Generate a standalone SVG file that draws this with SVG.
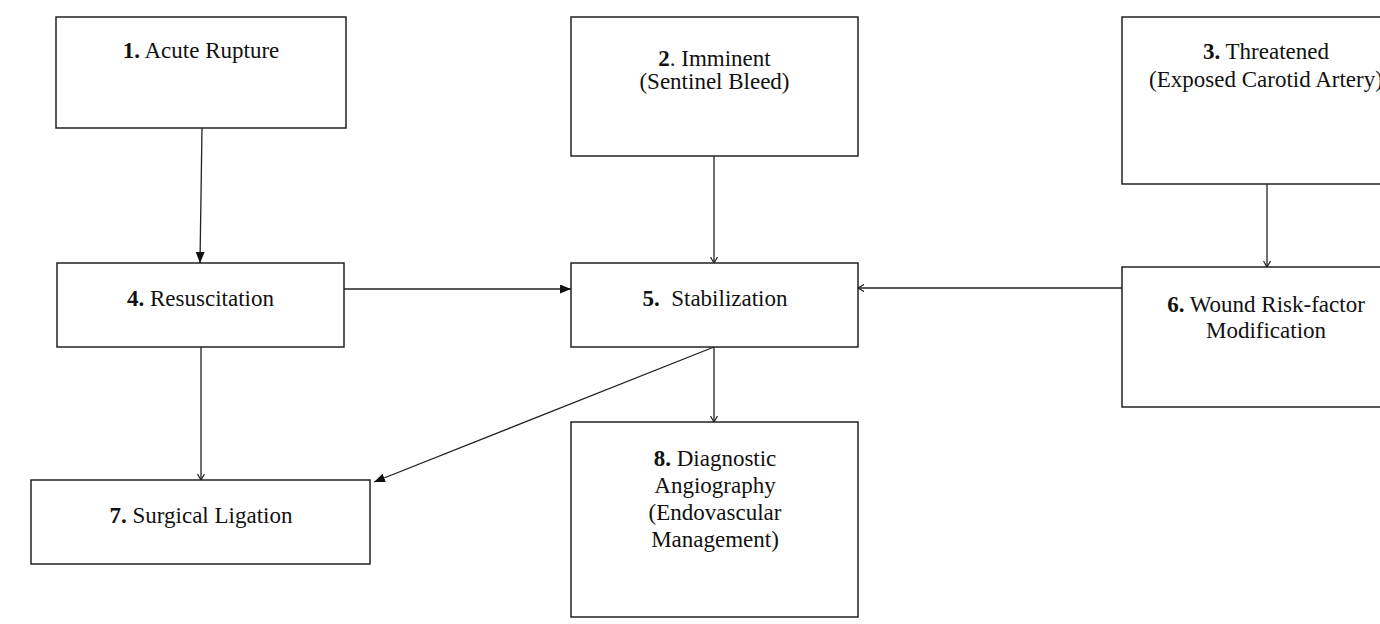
<svg xmlns="http://www.w3.org/2000/svg" width="1380" height="624" viewBox="0 0 1380 624">
<style>
  .box { fill: #ffffff; stroke: #222222; stroke-width: 1.5; }
  .lbl { font-family: "Liberation Serif", "Times New Roman", serif; font-size: 23px; fill: #111111; text-anchor: middle; }
  .b { font-weight: bold; }
  .con { fill: none; stroke: #222222; stroke-width: 1.3; }
  .solid { marker-end: url(#arrFill); }
  .open { marker-end: url(#arrOpen); }
</style>
<defs>
  <marker id="arrFill" markerUnits="userSpaceOnUse" markerWidth="12" markerHeight="10" refX="11" refY="4.5" orient="auto">
    <path d="M0,0 L11,4.5 L0,9 z" fill="#111111"/>
  </marker>
  <marker id="arrOpen" markerUnits="userSpaceOnUse" markerWidth="8" markerHeight="8" refX="6" refY="3.5" orient="auto">
    <path d="M0,0 L6,3.5 L0,7" fill="none" stroke="#222222" stroke-width="1.2"/>
  </marker>
</defs>
<rect width="1380" height="624" fill="#ffffff"/>

<g id="connectors">
  <line class="con solid" x1="202" y1="128" x2="200" y2="263"/>
  <line class="con open" x1="714" y1="156" x2="714" y2="263"/>
  <line class="con open" x1="1267" y1="184" x2="1267" y2="267"/>
  <line class="con solid" x1="344" y1="289" x2="571" y2="289"/>
  <line class="con open" x1="1122" y1="288" x2="858" y2="288"/>
  <line class="con open" x1="201" y1="347" x2="201" y2="480"/>
  <line class="con open" x1="714" y1="347" x2="714" y2="422"/>
  <line class="con solid" x1="714" y1="347" x2="374" y2="482"/>
</g>

<g id="node1">
  <rect class="box" x="56" y="17" width="290" height="111"/>
  <text class="lbl" x="201" y="58"><tspan class="b">1.</tspan> Acute Rupture</text>
</g>

<g id="node2">
  <rect class="box" x="571" y="17" width="287" height="139"/>
  <text class="lbl" x="714.5" y="66"><tspan class="b">2</tspan>. Imminent</text>
  <text class="lbl" x="714.5" y="89">(Sentinel Bleed)</text>
</g>

<g id="node3">
  <rect class="box" x="1122" y="17" width="290" height="167"/>
  <text class="lbl" x="1266" y="59"><tspan class="b">3.</tspan> Threatened</text>
  <text class="lbl" x="1266" y="87">(Exposed Carotid Artery)</text>
</g>

<g id="node4">
  <rect class="box" x="57" y="263" width="287" height="84"/>
  <text class="lbl" x="200.5" y="306"><tspan class="b">4.</tspan> Resuscitation</text>
</g>

<g id="node5">
  <rect class="box" x="571" y="263" width="287" height="84"/>
  <text class="lbl" x="715" y="306" xml:space="preserve"><tspan class="b">5.</tspan>  Stabilization</text>
</g>

<g id="node6">
  <rect class="box" x="1122" y="267" width="290" height="140"/>
  <text class="lbl" x="1266" y="312"><tspan class="b">6.</tspan> Wound Risk-factor</text>
  <text class="lbl" x="1266" y="338">Modification</text>
</g>

<g id="node7">
  <rect class="box" x="31" y="480" width="339" height="84"/>
  <text class="lbl" x="201" y="523"><tspan class="b">7.</tspan> Surgical Ligation</text>
</g>

<g id="node8">
  <rect class="box" x="571" y="422" width="287" height="195"/>
  <text class="lbl" x="715" y="466"><tspan class="b">8.</tspan> Diagnostic</text>
  <text class="lbl" x="715" y="493">Angiography</text>
  <text class="lbl" x="715" y="520">(Endovascular</text>
  <text class="lbl" x="715" y="547">Management)</text>
</g>
</svg>
